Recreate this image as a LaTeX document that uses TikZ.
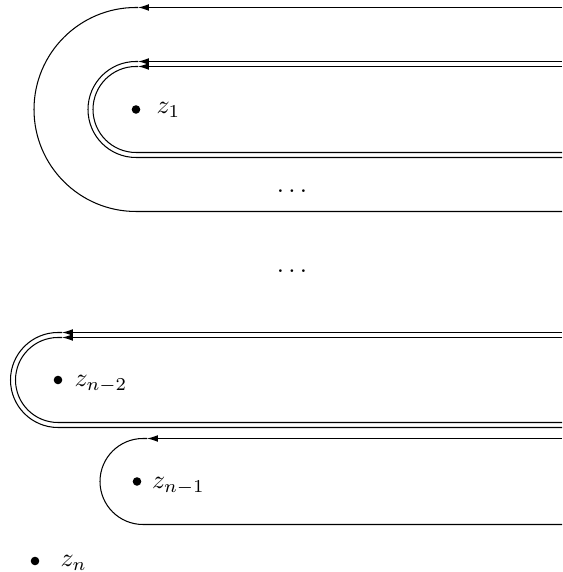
\documentclass[tikz,border=0pt]{standalone}
\usetikzlibrary{arrows.meta}
\begin{document}
\begin{tikzpicture}[x=0.385pt,y=0.385pt,
  curve/.style={line width=0.4pt,black},
  arr/.style={curve,-{Latex[length=4.2pt,width=2.6pt]}},
  pt/.style={circle,fill=black,inner sep=0pt,minimum size=3.3pt},
  lab/.style={anchor=base west,inner sep=0pt},
  dotsnode/.style={anchor=base,inner sep=0pt}]
\useasboundingbox (0,0) rectangle (562,572);
% big outer loop around z1
\coordinate (bigS) at (562,564.5);
\coordinate (bigT) at (138,564.5);
\draw[arr] (bigS) -- (bigT);
\draw[curve] (bigT) -- (136,564.5) arc[start angle=90,end angle=270,radius=102] -- (562,360.5);
% double loop around z1
\coordinate (aS1) at (562,510.5);
\coordinate (aT1) at (138,510.5);
\draw[arr] (aS1) -- (aT1);
\draw[curve] (aT1) -- (136,510.5) arc[start angle=90,end angle=270,radius=48] -- (562,414.5);
\coordinate (aS2) at (562,505.5);
\coordinate (aT2) at (138,505.5);
\draw[arr] (aS2) -- (aT2);
\draw[curve] (aT2) -- (136,505.5) arc[start angle=90,end angle=270,radius=43] -- (562,419.5);
% double loop around z_{n-2}
\coordinate (bS1) at (562,239.5);
\coordinate (bT1) at (62,239.5);
\draw[arr] (bS1) -- (bT1);
\draw[curve] (bT1) -- (58,239.5) arc[start angle=90,end angle=270,radius=47.5] -- (562,144.5);
\coordinate (bS2) at (562,234.5);
\coordinate (bT2) at (62,234.5);
\draw[arr] (bS2) -- (bT2);
\draw[curve] (bT2) -- (58,234.5) arc[start angle=90,end angle=270,radius=42.5] -- (562,149.5);
% loop around z_{n-1}
\coordinate (cS) at (562,133.5);
\coordinate (cT) at (147,133.5);
\draw[arr] (cS) -- (cT);
\draw[curve] (cT) -- (143,133.5) arc[start angle=90,end angle=270,radius=43] -- (562,47.5);
% points and labels
\node[pt] (p1) at (136,462.5) {};
\node[lab] (l1) at (156,458) {$z_1$};
\node[pt] (p2) at (58,192) {};
\node[lab] (l2) at (74,185.5) {$z_{n-2}$};
\node[pt] (p3) at (137,90.5) {};
\node[lab] (l3) at (151.5,83.7) {$z_{n-1}$};
\node[pt] (p4) at (35,11) {};
\node[lab] (l4) at (60,5) {$z_n$};
% dots
\node[dotsnode] (d1) at (292,379.5) {$\ldots$};
\node[dotsnode] (d2) at (292,299) {$\ldots$};
\end{tikzpicture}
\end{document}
